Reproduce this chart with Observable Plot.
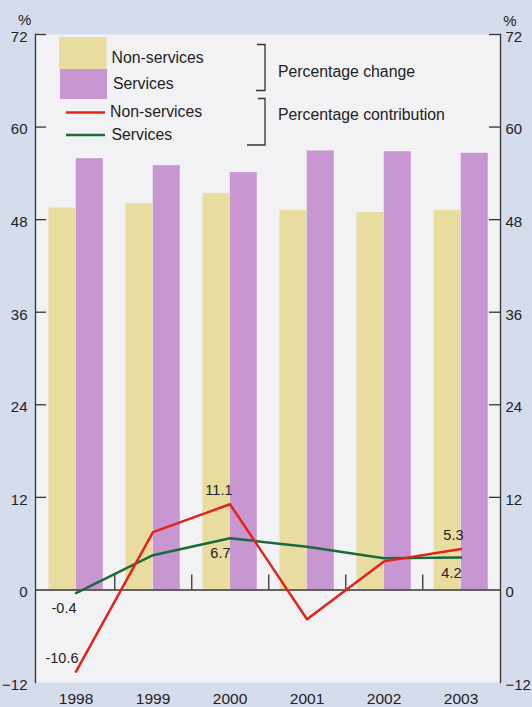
<!DOCTYPE html>
<html>
<head>
<meta charset="utf-8">
<script src="https://cdn.jsdelivr.net/npm/d3@7"></script>
<script src="https://cdn.jsdelivr.net/npm/@observablehq/plot@0.6"></script>
<style>
  html, body { margin: 0; padding: 0; background: #d5ddec; }
  #wrap { position: relative; width: 532px; height: 707px; background: #d5ddec; overflow: hidden; }
  #wrap svg { position: absolute; left: 0; top: 0; }
</style>
</head>
<body>
<div id="wrap"></div>
<script>
// ---- data ----
const years = ["1998", "1999", "2000", "2001", "2002", "2003"];
const nonServicesChange = [49.5, 50.1, 51.4, 49.2, 48.9, 49.2];
const servicesChange = [55.9, 55.0, 54.1, 56.9, 56.8, 56.6];
const nonServicesContribution = [-10.6, 7.5, 11.1, -3.8, 3.7, 5.3];
const servicesContribution = [-0.4, 4.5, 6.7, 5.6, 4.1, 4.2];
const labelledYears = ["1998", "2000", "2003"];
const yTicks = [-12, 0, 12, 24, 36, 48, 60, 72];
const yTickMarks = [12, 24, 36, 48, 60, 72];
const legendBars = ["Non-services", "Services"];
const legendLines = ["Non-services", "Services"];
const legendGroups = ["Percentage change", "Percentage contribution"];

// ---- styles ----
const colNS = "#e8dc9f";
const colS = "#c897d2";
const colRed = "#e2231a";
const colGreen = "#176b3d";
const ink = "#222";

const W = 532, H = 707;
const mL = 35, mR = 32, mT = 34, mB = 25;
const bw = (W - mL - mR) / years.length;
const frameW = W - mL - mR;

const changeRows = years.map((year, i) => ({year, ns: nonServicesChange[i], s: servicesChange[i]}));
const contribNS = years.map((year, i) => ({year, value: nonServicesContribution[i]}));
const contribS = years.map((year, i) => ({year, value: servicesContribution[i]}));
const fmt = d => d.value.toFixed(1);

const chart = Plot.plot({
  width: W, height: H,
  marginLeft: mL, marginRight: mR, marginTop: mT, marginBottom: mB,
  style: {fontFamily: "'Liberation Sans', Arial, sans-serif", fontSize: "15px", color: ink, background: "transparent", overflow: "visible"},
  x: {type: "band", domain: years, padding: 0, label: null},
  y: {domain: [-12, 72], ticks: yTicks, label: null},
  marks: [
    Plot.frame({fill: "#f2f2f5", stroke: "none"}),
    Plot.barY(changeRows, {x: "year", y: "ns", fill: colNS, insetLeft: 11.5, insetRight: bw - 38.75}),
    Plot.barY(changeRows, {x: "year", y: "s", fill: colS, insetLeft: 38.75, insetRight: 11.2}),
    Plot.frame({anchor: "left", stroke: "#333", strokeWidth: 1.3}),
    Plot.frame({anchor: "right", stroke: "#333", strokeWidth: 1.3}),
    Plot.tickY(yTickMarks, {y: d => d, insetRight: frameW - 11, stroke: "#333", strokeWidth: 1.3}),
    Plot.tickY(yTickMarks, {y: d => d, insetLeft: frameW - 11, stroke: "#333", strokeWidth: 1.3}),
    Plot.ruleY([0], {stroke: "#333", strokeWidth: 1.5}),
    Plot.ruleX(years.slice(0, -1), {x: d => d, dx: bw / 2, y1: 0, y2: 1.95, stroke: "#333", strokeWidth: 1.3}),
    Plot.axisY({anchor: "left", ticks: yTicks, tickSize: 0, tickPadding: 8, dy: 2.5, fontSize: 15, label: null}),
    Plot.axisY({anchor: "right", ticks: yTicks, tickSize: 0, tickPadding: 5, dy: 2.5, fontSize: 15, label: null}),
    Plot.axisX({tickSize: 0, tickPadding: 10, fontSize: 15.5, label: null}),
    Plot.text(["%"], {frameAnchor: "top-left", text: d => d, dx: -17.5, dy: -20.5, fontSize: 15}),
    Plot.text(["%"], {frameAnchor: "top-right", text: d => d, dx: 16, dy: -19.5, fontSize: 15}),
    Plot.line(contribS, {x: "year", y: "value", stroke: colGreen, strokeWidth: 2.5}),
    Plot.line(contribNS, {x: "year", y: "value", stroke: colRed, strokeWidth: 2.5}),
    Plot.text(contribNS.filter(d => labelledYears.includes(d.year)), {x: "year", y: "value", text: fmt, textAnchor: "end", dx: 2.5, dy: -13.8, fontSize: 14.5, fill: ink}),
    Plot.text(contribS.filter(d => labelledYears.includes(d.year)), {x: "year", y: "value", text: fmt, textAnchor: "end", dx: 0.5, dy: 15.4, fontSize: 14.5, fill: ink})
  ]
});
document.getElementById("wrap").appendChild(chart);

// ---- legend overlay ----
const lg = d3.select("#wrap").append("svg")
  .attr("width", W).attr("height", H)
  .style("font-family", "'Liberation Sans', Arial, sans-serif")
  .style("pointer-events", "none");

const swatches = [
  {fill: colNS, x: 59, y: 37, w: 47.5, h: 32, tx: 111.5, ty: 63},
  {fill: colS, x: 60, y: 69, w: 47, h: 30, tx: 113, ty: 88.5}
];
legendBars.forEach((name, i) => {
  const s = swatches[i];
  lg.append("rect").attr("x", s.x).attr("y", s.y).attr("width", s.w).attr("height", s.h).attr("fill", s.fill);
  lg.append("text").attr("x", s.tx).attr("y", s.ty).attr("font-size", 15.8).attr("fill", ink).text(name);
});
const lineKeys = [
  {stroke: colRed, y: 112.5, tx: 110, ty: 117},
  {stroke: colGreen, y: 135, tx: 111.5, ty: 140}
];
legendLines.forEach((name, i) => {
  const s = lineKeys[i];
  lg.append("line").attr("x1", 66).attr("x2", 105).attr("y1", s.y).attr("y2", s.y)
    .attr("stroke", s.stroke).attr("stroke-width", 2.5);
  lg.append("text").attr("x", s.tx).attr("y", s.ty).attr("font-size", 15.8).attr("fill", ink).text(name);
});
const brackets = [
  {d: "M257,44.5H265V90.5H256", ty: 77},
  {d: "M258,98.5H265V145H247", ty: 120}
];
legendGroups.forEach((name, i) => {
  const b = brackets[i];
  lg.append("path").attr("d", b.d).attr("fill", "none").attr("stroke", "#333").attr("stroke-width", 1.3);
  lg.append("text").attr("x", 278).attr("y", b.ty).attr("font-size", 15.8).attr("fill", ink).text(name);
});
</script>
</body>
</html>
